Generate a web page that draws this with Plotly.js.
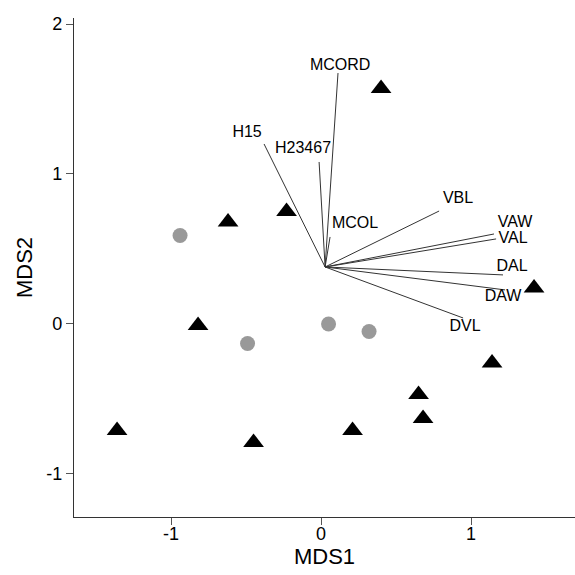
<!DOCTYPE html>
<html>
<head>
<meta charset="utf-8">
<script src="https://cdn.plot.ly/plotly-3.0.1.min.js"></script>
<style>html,body{margin:0;padding:0;background:#fff;}#chart{width:575px;height:575px;}</style>
</head>
<body>
<div id="chart"></div>
<script>
// Group 1 (black triangles)
var triX = [0.40, -0.23, -0.62, -0.82, 1.42, 1.14, 0.65, 0.68, 0.21, -0.45, -1.36];
var triY = [1.57, 0.75, 0.68, -0.01, 0.24, -0.26, -0.47, -0.63, -0.71, -0.79, -0.71];
// Group 2 (grey circles)
var cirX = [-0.94, -0.49, 0.05, 0.32];
var cirY = [0.59, -0.13, 0.00, -0.05];
// Fitted variable vectors (origin and tips)
var vecOriginX = 0.027;
var vecOriginY = 0.38;
var vecNames = ["MCORD", "H15", "H23467", "MCOL", "VBL", "VAW", "VAL", "DAL", "DAW", "DVL"];
var vecX = [0.113, -0.38, -0.013, 0.06, 0.787, 1.153, 1.167, 1.213, 1.227, 0.947];
var vecY = [1.673, 1.20, 1.08, 0.58, 0.753, 0.60, 0.567, 0.327, 0.227, 0.04];
var labelX = [0.127, -0.493, -0.12, 0.227, 0.913, 1.293, 1.28, 1.273, 1.213, 0.96];
var labelY = [1.72, 1.273, 1.167, 0.667, 0.833, 0.673, 0.567, 0.38, 0.18, -0.02];
var xTicks = [-1, 0, 1];
var yTicks = [-1, 0, 1, 2];

var lx = [], ly = [];
for (var i = 0; i < vecNames.length; i++) {
  lx.push(vecOriginX, vecX[i], null);
  ly.push(vecOriginY, vecY[i], null);
}

var traces = [
  {x: lx, y: ly, mode: 'lines', type: 'scatter', line: {color: '#333', width: 1}, hoverinfo: 'skip', showlegend: false},
  {x: triX, y: triY, mode: 'markers', type: 'scatter', marker: {symbol: 'triangle-up', size: 18, color: '#000'}, showlegend: false},
  {x: cirX, y: cirY, mode: 'markers', type: 'scatter', marker: {symbol: 'circle', size: 15, color: '#999'}, showlegend: false},
  {x: labelX, y: labelY, text: vecNames, mode: 'text', type: 'scatter', textposition: 'middle center',
   textfont: {family: 'Liberation Sans, Arial, sans-serif', size: 16, color: '#000'}, showlegend: false}
];

var layout = {
  width: 575, height: 575,
  margin: {l: 74, r: 0, t: 18, b: 58},
  paper_bgcolor: '#fff', plot_bgcolor: '#fff',
  font: {family: 'Liberation Sans, Arial, sans-serif', color: '#000'},
  showlegend: false,
  xaxis: {
    range: [-1.647, 1.693], showgrid: false, zeroline: false,
    showline: true, linecolor: '#333', linewidth: 1.2,
    ticks: 'outside', ticklen: 7, tickcolor: '#555', tickwidth: 1,
    ticklabelstandoff: -7,
    tickvals: xTicks, ticktext: xTicks.map(String),
    tickfont: {size: 18, color: '#000'},
    title: {text: 'MDS1', font: {size: 22, color: '#000'}, standoff: 1}
  },
  yaxis: {
    range: [-1.287, 2.04], showgrid: false, zeroline: false,
    showline: true, linecolor: '#333', linewidth: 1.2,
    ticks: 'outside', ticklen: 7, tickcolor: '#555', tickwidth: 1,
    tickvals: yTicks, ticktext: yTicks.map(String),
    tickfont: {size: 18, color: '#000'},
    title: {text: 'MDS2', font: {size: 22, color: '#000'}, standoff: 7}
  }
};

Plotly.newPlot('chart', traces, layout, {displayModeBar: false, staticPlot: true});
</script>
</body>
</html>
